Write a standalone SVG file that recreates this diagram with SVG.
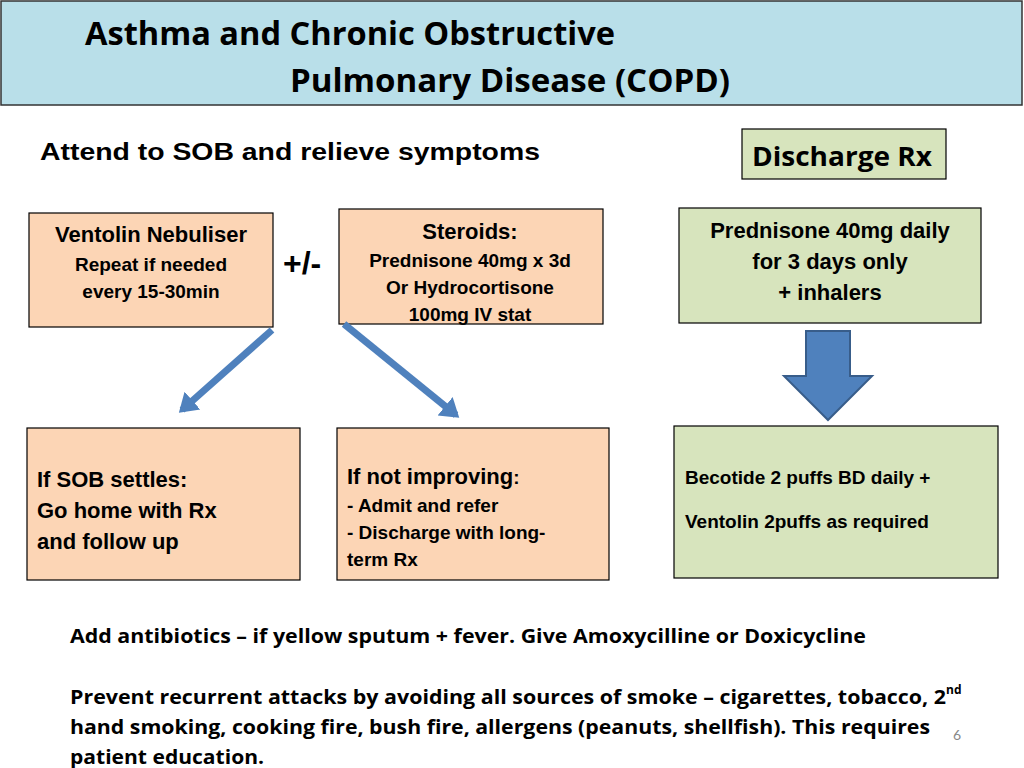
<svg xmlns="http://www.w3.org/2000/svg" width="1024" height="768" viewBox="0 0 1024 768">
<style>
.a{font-family:'Liberation Sans','Arimo',Arial,sans-serif;font-weight:700;fill:#000}
.c{font-family:'Open Sans',Lato,sans-serif;font-weight:700;fill:#000}
.o{fill:#fcd5b5;stroke:#000;stroke-width:1.2}
.g{fill:#d7e4bd;stroke:#000;stroke-width:1.2}
.m{text-anchor:middle}
</style>
<defs>
<marker id="ah" markerWidth="4" markerHeight="4" refX="2" refY="2" orient="auto" markerUnits="strokeWidth"><path d="M0,0.3 L2.6,2 L0,3.7 Z" fill="#4f81bd"/></marker>
</defs>
<rect width="1024" height="768" fill="#fff"/>
<g id="header"><rect x="1" y="1" width="1021" height="104" fill="#b9dfe9" stroke="#333" stroke-width="1.5"/>
<text class="c" x="85" y="45" font-size="32" textLength="530" lengthAdjust="spacingAndGlyphs">Asthma and Chronic Obstructive</text>
<text class="c" x="290" y="92" font-size="32" textLength="440" lengthAdjust="spacingAndGlyphs">Pulmonary Disease (COPD)</text></g>
<text class="a" x="40" y="160" font-size="24" textLength="500" lengthAdjust="spacingAndGlyphs">Attend to SOB and relieve symptoms</text>
<g id="discharge"><rect class="g" x="742" y="129" width="204" height="50"/><text class="c" x="752" y="166" font-size="27" textLength="180" lengthAdjust="spacingAndGlyphs">Discharge Rx</text></g>
<g id="ventolin"><rect class="o" x="29" y="213" width="244" height="114"/>
<text class="a m" x="151" y="242" font-size="22">Ventolin Nebuliser</text>
<text class="a m" x="151" y="271" font-size="19">Repeat if needed</text>
<text class="a m" x="151" y="298" font-size="19">every 15-30min</text></g>
<text class="a" x="283" y="274" font-size="32">+/-</text>
<g id="steroids"><rect class="o" x="339" y="209" width="264" height="115"/>
<text class="a m" x="470" y="239" font-size="22">Steroids:</text>
<text class="a m" x="470" y="267" font-size="19">Prednisone 40mg x 3d</text>
<text class="a m" x="470" y="294" font-size="19">Or Hydrocortisone</text>
<text class="a m" x="470" y="321" font-size="19">100mg IV stat</text></g>
<g id="pred"><rect class="g" x="679" y="208" width="302" height="115"/>
<text class="a m" x="830" y="238" font-size="22">Prednisone 40mg daily</text>
<text class="a m" x="830" y="269" font-size="22">for 3 days only</text>
<text class="a m" x="830" y="300" font-size="22">+ inhalers</text></g>
<g id="settles"><rect class="o" x="27" y="428" width="273" height="152"/>
<text class="a" x="37" y="487" font-size="22">If SOB settles:</text>
<text class="a" x="37" y="518" font-size="22">Go home with Rx</text>
<text class="a" x="37" y="549" font-size="22">and follow up</text></g>
<g id="notimp"><rect class="o" x="337" y="428" width="272" height="152"/>
<text class="a" x="347" y="484" font-size="22">If not improving<tspan font-size="19">:</tspan></text>
<text class="a" x="347" y="512" font-size="19">- Admit and refer</text>
<text class="a" x="347" y="539" font-size="19">- Discharge with long-</text>
<text class="a" x="347" y="566" font-size="19">term Rx</text></g>
<g id="becotide"><rect class="g" x="674" y="426" width="324" height="152"/>
<text class="a" x="685" y="484" font-size="19">Becotide 2 puffs BD daily +</text>
<text class="a" x="685" y="528" font-size="19">Ventolin 2puffs as required</text></g>
<g id="connectors">
<line x1="272" y1="330" x2="182" y2="410" stroke="#4f81bd" stroke-width="7" marker-end="url(#ah)"/>
<line x1="344" y1="324" x2="456" y2="415" stroke="#4f81bd" stroke-width="7" marker-end="url(#ah)"/>
<path d="M806,331 H850 V376 H872 L828,420 L784,376 H806 Z" fill="#4f81bd" stroke="#385d8a" stroke-width="2"/>
</g>
<g class="c" font-size="19">
<text x="70" y="643" textLength="796" lengthAdjust="spacingAndGlyphs">Add antibiotics – if yellow sputum + fever.  Give Amoxycilline or Doxicycline</text>
<text x="70" y="704" textLength="876" lengthAdjust="spacingAndGlyphs">Prevent recurrent attacks by avoiding all sources of smoke – cigarettes, tobacco, 2</text>
<text x="946" y="694" font-size="12">nd</text>
<text x="70" y="734" textLength="860" lengthAdjust="spacingAndGlyphs">hand smoking, cooking fire, bush fire, allergens (peanuts, shellfish).  This requires</text>
<text x="70" y="764" textLength="194" lengthAdjust="spacingAndGlyphs">patient education.</text>
</g>
<text x="953" y="740" font-family="Lato,sans-serif" font-size="14" fill="#888">6</text>
</svg>
